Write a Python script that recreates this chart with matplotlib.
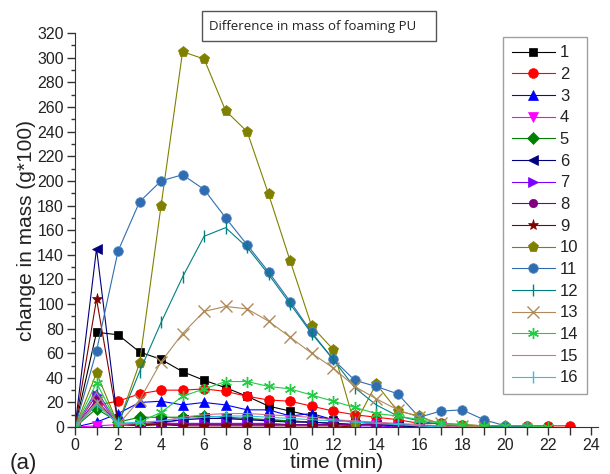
import matplotlib
matplotlib.use('Agg')
import matplotlib.pyplot as plt
from matplotlib.patches import Rectangle
from matplotlib.ticker import MultipleLocator

# Datos (cambio de masa, g*100) - tiempo en minutos = indice
s1 = [0, 77, 75, 61, 55, 45, 38, 32, 25, 17, 13, 9, 6, 4, 3, 2, 1, 1, 0]
s2 = [0, 18, 21, 27, 30, 30, 31, 29, 25, 22, 21, 17, 13, 10, 8, 6, 3, 3, 2, 1, 1, 1, 1, 1]
s3 = [0, 4, 11, 20, 21, 18, 20, 18, 14, 14, 9, 11, 6, 4, 3, 2, 1, 1, 0]
s4 = [0, 1, 2, 2, 3, 6, 7, 7, 6, 6, 5, 4, 3, 2, 2, 1, 1, 0]
s5 = [0, 15, 4, 8, 8, 8, 9, 8, 7, 6, 5, 4, 3, 2, 2, 1, 1, 0]
s6 = [0, 145, 2, 3, 4, 6, 7, 7, 6, 5, 4, 4, 3, 2, 2, 1, 0]
s7 = [0, 26, 2, 2, 3, 3, 3, 3, 3, 3, 2, 2, 2, 1, 1, 0]
s8 = [0, 22, 2, 1, 2, 2, 2, 2, 2, 2, 2, 2, 2, 2, 2, 2, 1, 0]
s9 = [0, 104, 3, 2, 2, 1, 1, 1, 1, 1, 1, 1, 1, 0]
s10 = [0, 44, 2, 52, 180, 305, 299, 257, 240, 189, 135, 82, 63, 2, 35, 13, 9, 2, 1, 1, 1, 0]
s11 = [0, 62, 143, 183, 200, 205, 193, 170, 148, 126, 102, 77, 55, 38, 33, 27, 8, 13, 14, 6, 1, 0]
s12 = [0, 30, 2, 45, 85, 122, 155, 162, 146, 124, 100, 76, 55, 32, 18, 9, 5, 2, 1, 1, 0]
s13 = [0, 20, 2, 22, 53, 76, 94, 98, 96, 86, 73, 60, 48, 33, 23, 14, 8, 3, 1, 0]
s14 = [0, 36, 2, 4, 12, 25, 31, 37, 37, 33, 31, 26, 21, 16, 11, 9, 6, 3, 2, 1, 1, 1, 0]
s15 = [0, 28, 2, 3, 5, 8, 10, 11, 11, 10, 9, 8, 6, 5, 4, 3, 2, 1, 0]
s16 = [0, 18, 3, 4, 5, 7, 8, 9, 9, 8, 7, 6, 5, 4, 3, 2, 1, 0]

series = [s1, s2, s3, s4, s5, s6, s7, s8, s9, s10, s11, s12, s13, s14, s15, s16]
labels = [str(i) for i in range(1, 17)]

# Estilo tipo Origin
colores = ['#000000', '#FF0000', '#0000FF', '#FF00FF', '#008000', '#000080',
           '#8000FF', '#800080', '#800000', '#808000', '#2F6DB0', '#008080',
           '#B08A5A', '#22CC44', '#D07090', '#30C0E0']
marcas = ['s', 'o', '^', 'v', 'D', '<', '>', 'o', '*', 'p', 'o', '|',
          'x', (6, 2, 0), None, '|']
tam = [6, 7, 7, 7, 6, 7, 7, 6, 8, 8, 7, 8, 8, 8, 6, 8]

plt.rcParams['font.family'] = ['Liberation Sans', 'DejaVu Sans']

fig = plt.figure(figsize=(6.10, 4.74), dpi=100)
ax = fig.add_axes([0.123, 0.099, 0.857, 0.831])

for i in range(16):
    t = list(range(len(series[i])))
    ax.plot(t, series[i], color=colores[i], lw=0.8, marker=marcas[i],
            markersize=tam[i], markeredgewidth=1.0 if marcas[i] in ('|', 'x', (6, 2, 0)) else 0.5,
            markeredgecolor=colores[i] if i != 10 else '#5A8FCC',
            label=labels[i])

ax.set_xlim(0, 24.3)
ax.set_ylim(0, 320)
ax.xaxis.set_major_locator(MultipleLocator(2))
ax.xaxis.set_minor_locator(MultipleLocator(1))
ax.yaxis.set_major_locator(MultipleLocator(20))
ax.yaxis.set_minor_locator(MultipleLocator(10))
ax.tick_params(which='major', direction='out', length=6, width=1, labelsize=11.5,
               color='#333333', labelcolor='#222222', pad=2)
ax.tick_params(axis='x', which='minor', direction='out', length=6, width=1, color='#333333')
ax.tick_params(axis='y', which='minor', direction='out', length=3, width=1, color='#333333')
for lado in ['top', 'right']:
    ax.spines[lado].set_visible(False)
for lado in ['left', 'bottom']:
    ax.spines[lado].set_color('#333333')

ax.set_xlabel('time (min)', fontsize=15, labelpad=0, color='#222222')
ax.set_ylabel('change in mass (g*100)', fontsize=15, labelpad=1, color='#222222')

leg = ax.legend(loc='upper right', bbox_to_anchor=(0.979, 0.99), borderaxespad=0,
                fontsize=12, fancybox=False, edgecolor='#888888', handlelength=2.6,
                handletextpad=0.3, labelspacing=0.4, borderpad=0.5)
leg.get_frame().set_linewidth(1.0)
for txt in leg.get_texts():
    txt.set_color('#222222')

# Cuadro del titulo
fig.patches.append(Rectangle((0.331, 0.9135), 0.384, 0.0633, transform=fig.transFigure,
                             fill=False, edgecolor='#555555', lw=1.0))
fig.text(0.343, 0.945, 'Difference in mass of foaming PU', fontsize=9.5,
         family='Open Sans', va='center', ha='left', color='#222222')

fig.text(0.015, 0.023, '(a)', fontsize=16, va='center', ha='left', color='#222222')

plt.savefig('out.png', dpi=100)
